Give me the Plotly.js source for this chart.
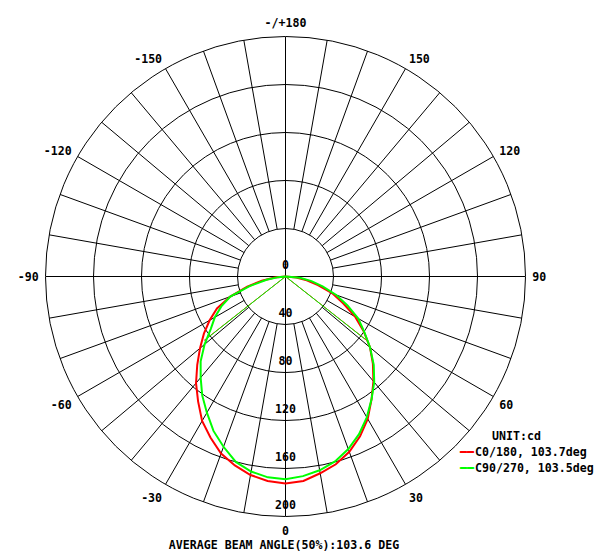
<!DOCTYPE html>
<html>
<head>
<meta charset="utf-8">
<script src="https://cdn.plot.ly/plotly-3.0.1.min.js"></script>
<style>html,body{margin:0;padding:0;background:#fff;}#chart{width:603px;height:553px;}</style>
</head>
<body>
<div id="chart"></div>
<script>
// ---- data ----
const angleDeg = [-90,-85,-80,-75,-70,-65,-60,-55,-50,-45,-40,-35,-30,-25,-20,-15,-10,-5,0,5,10,15,20,25,30,35,40,45,50,55,60,65,70,75,80,85,90];
const c0Values = [0,9,20,33,49,63,73,83,93,104,116,127,139,148,157,163,168,171,172.5,171,166.5,162,155.5,147,137,125,114,103,92,79.5,67,53,42,28,18,9,0];
const c90Values = [0,6,16,31,49,59,68,76,88,100,110,121,131,142,151,160,165,168,169,167,164,159.5,153,145,135.5,125,115,104,92,80,70,57,45,32,22,12,0];
const c0BeamTheta = [-51.85, 0, 51.85];
const c0BeamR = [86.3, 0, 86.3];
const c90BeamTheta = [-51.75, 0, 51.75];
const c90BeamR = [84.5, 0, 84.5];
const seriesNames = ['C0/180, 103.7deg', 'C90/270, 103.5deg'];
const seriesColors = ['#ff0000', '#00ff00'];
const radialTickVals = [0,40,80,120,160,200];
const radialTickLabels = ['0','40','80','120','160','200'];
const angularTickVals = [0,30,60,90,120,150,180,210,240,270,300,330];
const angularTickLabels = ['0','30','60','90','120','150','-/+180','-150','-120','-90','-60','-30'];
const titleText = 'AVERAGE BEAM ANGLE(50%):103.6 DEG';
const unitText = 'UNIT:cd';

// ---- grid helpers ----
const rInner = 40, rOuter = 200;
const spokeR = [], spokeT = [];
for (let a = 0; a < 360; a += 10) {
  if (a % 90 === 0) continue;
  spokeR.push(rInner, rOuter, null);
  spokeT.push(a, a, null);
}
const axisR = [rOuter, 0, rOuter, null, rOuter, 0, rOuter];
const axisT = [0, 0, 180, null, 90, 90, 270];

const FONT = {family: 'DejaVu Sans Mono, monospace', size: 11.6, color: '#000', weight: 'bold'};

const traces = [
  {type:'scatterpolar', mode:'lines', r: spokeR, theta: spokeT, line:{color:'#000', width:1}, showlegend:false, hoverinfo:'skip'},
  {type:'scatterpolar', mode:'lines', r: axisR, theta: axisT, line:{color:'#000', width:1}, showlegend:false, hoverinfo:'skip'},
  {type:'scatterpolar', mode:'markers+text', r: radialTickVals, theta: radialTickVals.map(() => 0), text: radialTickLabels, textposition:'top center', textfont: FONT,
   marker:{size:6, color:'rgba(0,0,0,0)'}, showlegend:false, hoverinfo:'skip', cliponaxis:false},
  {type:'scatterpolar', mode:'lines', r: c0BeamR, theta: c0BeamTheta, line:{color:seriesColors[0], width:1}, showlegend:false, hoverinfo:'skip'},
  {type:'scatterpolar', mode:'lines', r: c90BeamR, theta: c90BeamTheta, line:{color:seriesColors[1], width:1}, showlegend:false, hoverinfo:'skip'},
  {type:'scatterpolar', mode:'lines', name: seriesNames[0], r: c0Values, theta: angleDeg, line:{color:seriesColors[0], width:2}},
  {type:'scatterpolar', mode:'lines', name: seriesNames[1], r: c90Values, theta: angleDeg, line:{color:seriesColors[1], width:2}}
];

const W = 603, H = 553, cx = 285.5, cy = 276.5, R = 240;
const legendX = 456.5, legendTextX = 473, legendTopY = 436, legendRow = 16;
const annotations = [
  {text: unitText, x: 490/W, y: (H-legendTopY)/H, xref:'paper', yref:'paper', xanchor:'left', yanchor:'middle', showarrow:false, font: FONT}
];
seriesNames.forEach((name, i) => {
  const yy = (H - (legendTopY + legendRow*(i+1)))/H;
  annotations.push({text: '━━', x: legendX/W, y: yy, xref:'paper', yref:'paper', xanchor:'left', yanchor:'middle', showarrow:false,
    font: Object.assign({}, FONT, {color: seriesColors[i]})});
  annotations.push({text: name, x: legendTextX/W, y: yy, xref:'paper', yref:'paper', xanchor:'left', yanchor:'middle', showarrow:false, font: FONT});
});

const layout = {
  width: W, height: H,
  margin: {l:0, r:0, t:0, b:0},
  paper_bgcolor: '#fff',
  font: FONT,
  showlegend: false,
  hovermode: false,
  title: {text: titleText, font: FONT, x: 284/W, xanchor:'center', y: (H-545)/H, yanchor:'middle', xref:'paper', yref:'paper'},
  annotations: annotations,
  polar: {
    domain: {x: [(cx-R)/W, (cx+R)/W], y: [(H-cy-R)/H, (H-cy+R)/H]},
    bgcolor: '#fff',
    radialaxis: {range:[0,200], tickvals: radialTickVals, showticklabels:false, ticks:'', showline:false, gridcolor:'#000', gridwidth:1},
    angularaxis: {rotation:-90, direction:'counterclockwise', tickvals: angularTickVals, ticktext: angularTickLabels,
      ticks:'outside', ticklen:4, tickcolor:'rgba(0,0,0,0)', showgrid:false, showline:true, linecolor:'#000', linewidth:1, tickfont: FONT}
  }
};

Plotly.newPlot('chart', traces, layout, {staticPlot:true, displayModeBar:false});
</script>
</body>
</html>
